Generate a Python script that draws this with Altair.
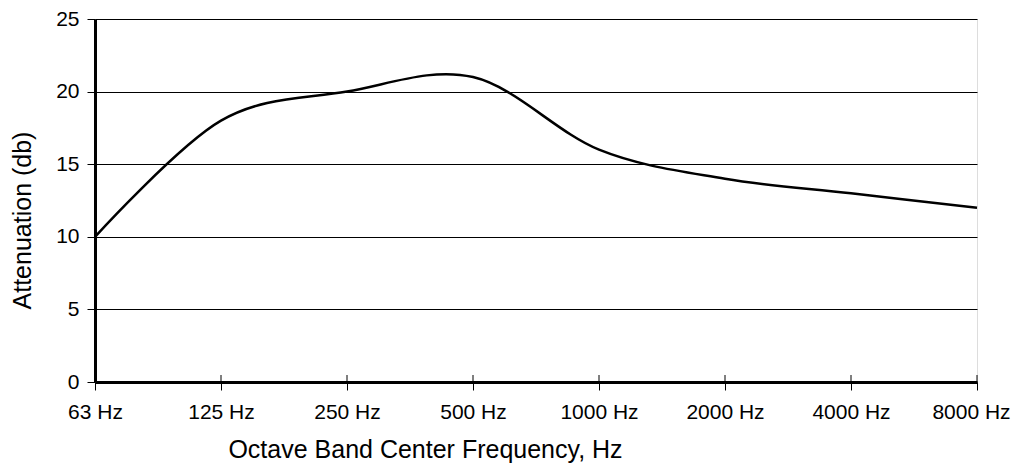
import altair as alt
import pandas as pd

bands = ["63 Hz", "125 Hz", "250 Hz", "500 Hz", "1000 Hz", "2000 Hz", "4000 Hz", "8000 Hz"]
attenuation = [10, 18, 20, 21, 16, 14, 13, 12]

df = pd.DataFrame({"band": bands, "att": attenuation})

FONT = "Liberation Sans"

x_scale = alt.Scale(type="point", padding=0)

x_enc = alt.X(
    "band:N",
    sort=bands,
    scale=x_scale,
    axis=alt.Axis(
        title="Octave Band Center Frequency, Hz",
        labelAngle=0,
        labelAlign="center",
        labelBaseline="top",
        labelFontSize=21,
        labelFont=FONT,
        labelColor="black",
        labelPadding=11,
        labelOverlap=False,
        labelOffset={"condition": {"test": "datum.label == '8000 Hz'", "value": -6}, "value": 0},
        tickSize=8,
        tickColor="black",
        tickWidth=1,
        domainColor="black",
        domainWidth=3,
        grid=False,
        titleFontSize=25,
        titleFont=FONT,
        titleFontWeight="normal",
        titleColor="black",
        titleX=330,
        titleY=75,
        titleAlign="center",
        titleBaseline="alphabetic",
    ),
)

y_enc = alt.Y(
    "att:Q",
    scale=alt.Scale(domain=[0, 25], nice=False),
    axis=alt.Axis(
        title="Attenuation (db)",
        values=[0, 5, 10, 15, 20, 25],
        labelFontSize=21,
        labelFont=FONT,
        labelColor="black",
        labelPadding=8,
        tickSize=8,
        tickColor="black",
        tickWidth=1,
        domainColor="black",
        domainWidth=3,
        grid=True,
        gridColor="black",
        gridWidth=1,
        gridOpacity=1,
        titleFontSize=25,
        titleFont=FONT,
        titleFontWeight="normal",
        titleColor="black",
        titleX=-73,
        titleY=201,
        titleAngle=270,
        titleAlign="center",
        titleBaseline="middle",
    ),
)

line = alt.Chart(df).mark_line(
    color="black", strokeWidth=2.5, interpolate="cardinal", tension=0
).encode(x=x_enc, y=y_enc)

inner_ticks = alt.Chart(df).mark_rule(color="black", strokeWidth=1).encode(
    x=x_enc,
    y=alt.value(356),
    y2=alt.value(363),
)

chart = (
    alt.layer(line, inner_ticks)
    .properties(
        width=882,
        height=363,
        autosize=alt.AutoSizeParams(type="none"),
        padding={"left": 87, "top": 11, "right": 34, "bottom": 82},
    )
    .configure_view(stroke=None)
    .configure(background="white")
)

chart.save("out.html", embed_options={"renderer": "svg", "actions": False})
